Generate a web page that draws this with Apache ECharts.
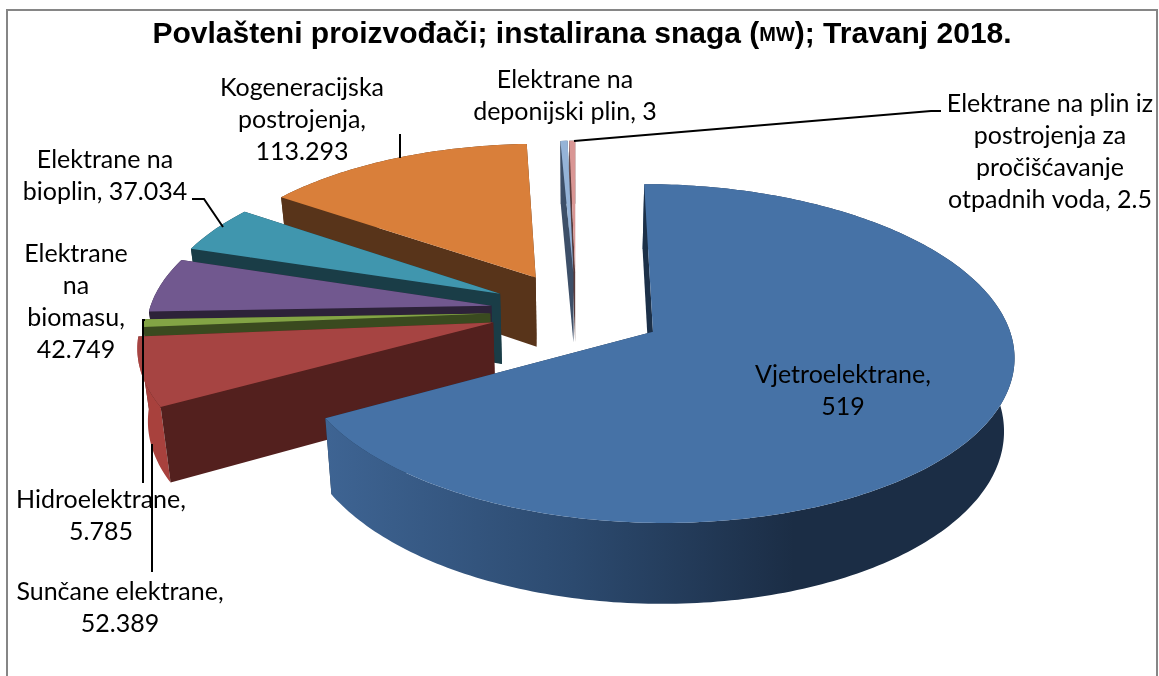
<!DOCTYPE html>
<html>
<head>
<meta charset="utf-8">
<title>Povlašteni proizvođači</title>
<script src="https://cdn.jsdelivr.net/npm/echarts@6/dist/echarts.min.js"></script>
<style>
html, body { margin: 0; padding: 0; background: #fff; }
#chart { width: 1159px; height: 676px; }
</style>
</head>
<body>
<div id="chart"></div>
<script>
// podaci
const categories = ['Vjetroelektrane', 'Sunčane elektrane', 'Hidroelektrane', 'Elektrane\nna\nbiomasu',
    'Elektrane na\nbioplin', 'Kogeneracijska\npostrojenja', 'Elektrane na\ndeponijski plin',
    'Elektrane na plin iz\npostrojenja za\npročišćavanje\notpadnih voda'];
const values = [519, 52.389, 5.785, 42.749, 37.034, 113.293, 3, 2.5];
const valueBreaks = ['\n', '\n', '\n', '\n', ' ', '\n', ' ', ' '];

// boje: gornja ploha, stijenka
const topColors = ['#4672a6', '#a64442', '#83a445', '#71588f', '#4096ae', '#d97f3a', '#95b3d7', '#d99694'];
const wallColors = ['#1c3048', '#53201e', '#3a4a1f', '#2d2239', '#1a3d47', '#58341a', '#3d4f68', '#5a3a3a'];
const rimColors = ['#3e6493', '#a8413d', '#3a4a1f', '#2d2239', '#1a3d47', '#58341a', '#3d4f68', '#5a3a3a'];

// polumjer i razmak kriski, ovako najbolje pase na sliku
const sliceRadius = [340, 337, 332, 331, 333, 333, 331, 331];
const sliceExplode = [85, 83, 83, 83, 83, 83, 83, 83];

// polozaj natpisa (sredina teksta)
const labelAnchors = [[843, 391], [120, 608], [101, 516], [76, 302], [105, 176], [302, 120], [565, 96], [1050, 152]];

// vodilice
const leaderLines = [
    [[400, 134], [400, 158]],
    [[192, 199], [204, 199], [223, 227]],
    [[145, 320], [143, 320], [143, 483]],
    [[152, 444], [152, 572]],
    [[574, 141], [931, 111], [941, 111]]
];

// projekcija
const cx = 576, cy = 311, flat = 0.459;
const total = values.reduce((a, b) => a + b, 0);
const rad = Math.PI / 180;

function project(X, Y, bottom) {
    const s = 1 / (0.9675 - 0.00036 * Y);
    let sx = cx + X * s;
    let sy = cy + flat * Y * s;
    if (bottom) {
        sx = cx + (sx - cx) * 0.976;
        sy = sy + 69 + 58 * (s - 1);
    }
    return [sx, sy];
}

function renderSlice(params, api) {
    const i = api.value(0);
    const startDeg = api.value(2);
    const endDeg = api.value(3);
    const radius = sliceRadius[i];
    const explode = sliceExplode[i];
    const mid = (startDeg + endDeg) / 2 * rad;
    const ox = explode * Math.sin(mid);
    const oy = -explode * Math.cos(mid);
    const onRim = (deg, bottom) => project(ox + radius * Math.sin(deg * rad), oy - radius * Math.cos(deg * rad), bottom);
    const apexTop = project(ox, oy, false);
    const apexBottom = project(ox, oy, true);

    const angles = [];
    for (let d = startDeg; d < endDeg; d += 1) angles.push(d);
    angles.push(endDeg);
    const rimTop = angles.map(d => onRim(d, false));
    const rimBottom = angles.map(d => onRim(d, true));

    let rimFill = rimColors[i];
    if (i === 0) {
        rimFill = new echarts.graphic.LinearGradient(0, 0, 1, 0, [
            { offset: 0, color: '#3e6493' },
            { offset: 0.36, color: '#2c4a6f' },
            { offset: 0.68, color: '#1b2d45' },
            { offset: 1, color: '#1b2d45' }
        ]);
    }
    const wall = (a, b, c, d, fill) => ({
        type: 'polygon',
        shape: { points: [a, b, c, d] },
        style: { fill: fill }
    });
    return {
        type: 'group',
        children: [
            wall(apexTop, rimTop[rimTop.length - 1], rimBottom[rimBottom.length - 1], apexBottom, wallColors[i]),
            {
                type: 'polygon',
                shape: { points: rimTop.concat(rimBottom.slice().reverse()) },
                style: { fill: rimFill }
            },
            wall(apexTop, rimTop[0], rimBottom[0], apexBottom, wallColors[i]),
            {
                type: 'polygon',
                shape: { points: [apexTop].concat(rimTop) },
                style: { fill: topColors[i] }
            }
        ]
    };
}

// stupci: indeks, vrijednost, pocetni kut, zavrsni kut (straznje kriske prve)
let running = 0;
const rows = values.map((v, i) => {
    const start = running / total * 360;
    running += v;
    return [i, v, start, running / total * 360];
}).reverse();

const labelElements = categories.map((name, i) => ({
    type: 'text',
    z: 100,
    x: labelAnchors[i][0],
    y: labelAnchors[i][1],
    style: {
        text: name + ',' + valueBreaks[i] + values[i],
        font: '25px Lato',
        lineHeight: 32,
        fill: '#000',
        align: 'center',
        verticalAlign: 'middle'
    }
}));

const leaderElements = leaderLines.map(points => ({
    type: 'polyline',
    z: 90,
    shape: { points: points },
    style: { stroke: '#000', lineWidth: 2, fill: null }
}));

const chart = echarts.init(document.getElementById('chart'));
chart.setOption({
    animation: false,
    backgroundColor: '#fff',
    title: {
        text: '{a|Povlašteni proizvođači; instalirana snaga (}{b|MW}{a|); Travanj 2018.}',
        left: 577,
        top: 15,
        textAlign: 'center',
        textStyle: {
            rich: {
                a: { fontFamily: 'Liberation Sans', fontWeight: 'bold', fontSize: 30, color: '#000' },
                b: { fontFamily: 'Liberation Sans', fontWeight: 'bold', fontSize: 20, color: '#000' }
            }
        }
    },
    graphic: [{
        type: 'polyline',
        z: 80,
        shape: { points: [[7, 676], [7, 10], [1157, 10], [1157, 676]] },
        style: { stroke: '#868686', lineWidth: 2, fill: null }
    }].concat(leaderElements, labelElements),
    series: [{
        type: 'custom',
        coordinateSystem: 'none',
        silent: true,
        renderItem: renderSlice,
        data: rows
    }]
});
</script>
</body>
</html>
